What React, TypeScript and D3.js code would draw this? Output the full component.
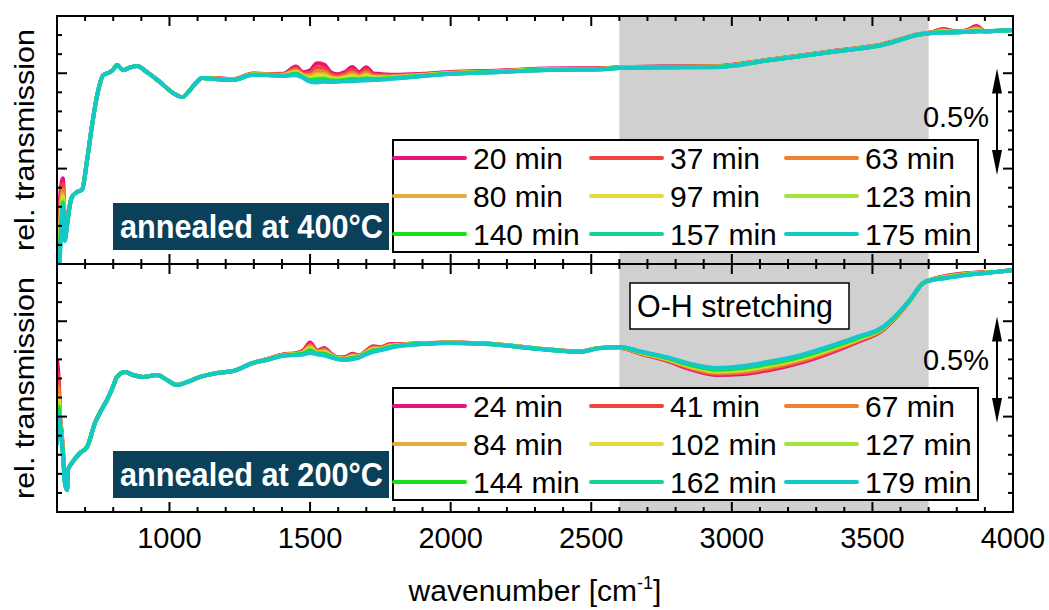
import React from 'react';
import * as d3 from 'd3';

const W = 1049;
const H = 610;
const FONT = '"Liberation Sans", Arial, Helvetica, sans-serif';

const xDomain = [600, 4000];
const xTickLabels = [1000, 1500, 2000, 2500, 3000, 3500, 4000];
const yDomain = [0, 1.3];
const ohBand = [2600, 3700];
const arrowSpan = [0.466, 1.025];

const times400 = ['20 min', '37 min', '63 min', '80 min', '97 min', '123 min', '140 min', '157 min', '175 min'];
const times200 = ['24 min', '41 min', '67 min', '84 min', '102 min', '127 min', '144 min', '162 min', '179 min'];
const seriesColors = ['#e8127f', '#f0433c', '#ef8030', '#e6ab38', '#e4db3a', '#a8e33c', '#16e016', '#14d38c', '#14c8c8'];

// 400 °C panel: wavenumber knots, latest spectrum, deviation of the earliest spectrum
const wn400 = [
  600, 611, 621, 628, 636, 645, 653, 671, 689, 707,
  720, 735, 750, 764, 788, 800, 813, 835, 860, 884,
  920, 966, 1013, 1045, 1073, 1095, 1116, 1155, 1226, 1297,
  1350, 1404, 1450, 1475, 1500, 1525, 1550, 1575, 1600, 1625,
  1650, 1675, 1700, 1725, 1750, 1775, 1800, 1900, 1998, 2176,
  2353, 2531, 2602, 2750, 2947, 3125, 3250, 3360, 3450, 3537,
  3600, 3658, 3715, 3750, 3800, 3836, 3870, 3900, 3950, 4000,
];
const late400 = [
  -0.25, 0.05, 0.3, 0.12, 0.2, 0.3, 0.35, 0.377, 0.39, 0.545,
  0.68, 0.823, 0.93, 0.99, 1.006, 1.02, 1.043, 1.017, 1.03, 1.038,
  1.006, 0.954, 0.896, 0.875, 0.912, 0.95, 0.975, 0.97, 0.964, 0.991,
  0.99, 0.985, 0.99, 0.975, 0.955, 0.952, 0.955, 0.954, 0.955, 0.957,
  0.958, 0.96, 0.962, 0.964, 0.966, 0.968, 0.972, 0.985, 0.996, 1.006,
  1.017, 1.02, 1.027, 1.03, 1.032, 1.066, 1.09, 1.112, 1.128, 1.148,
  1.175, 1.2, 1.211, 1.212, 1.214, 1.216, 1.218, 1.22, 1.223, 1.226,
];
const earlyDev400 = [
  0, 0.3, 0.15, 0.1, 0.03, 0.01, 0, 0, 0, 0,
  0, 0, 0, 0, 0, 0, 0, 0, 0, 0,
  0, 0, 0, 0, 0, 0, 0, 0.005, 0.005, 0.008,
  0.005, 0.012, 0.045, 0.03, 0.06, 0.1, 0.09, 0.05, 0.04, 0.05,
  0.075, 0.045, 0.07, 0.035, 0.03, 0.025, 0.02, 0.012, 0.01, 0.008,
  0.008, 0.006, 0.005, 0.005, 0.005, 0.004, 0.004, 0.004, 0.004, 0.004,
  0.003, 0.003, 0.005, 0.02, 0.005, 0.01, 0.03, 0, 0, 0,
];
const devScale400 = [1, 0.8, 0.6, 0.45, 0.35, 0.25, 0.15, 0.08, 0];

// 200 °C panel
const wn200 = [
  600, 606, 611, 616, 621, 628, 636, 639, 653, 682,
  707, 735, 760, 778, 800, 813, 842, 870, 906, 956,
  991, 1027, 1062, 1109, 1169, 1226, 1297, 1347, 1404, 1450,
  1475, 1500, 1525, 1550, 1575, 1600, 1625, 1650, 1675, 1700,
  1725, 1750, 1784, 1820, 1900, 1998, 2100, 2176, 2260, 2353,
  2460, 2531, 2602, 2680, 2769, 2860, 2947, 3040, 3125, 3250,
  3360, 3450, 3537, 3590, 3633, 3680, 3715, 3760, 3836, 3900,
  3950, 4000,
];
const late200 = [
  0.35, 0.5, 0.45, 0.38, 0.3, 0.15, 0.115, 0.22, 0.257, 0.309,
  0.341, 0.466, 0.54, 0.587, 0.66, 0.708, 0.734, 0.718, 0.708, 0.718,
  0.692, 0.666, 0.681, 0.708, 0.729, 0.739, 0.781, 0.797, 0.818, 0.823,
  0.825, 0.833, 0.826, 0.82, 0.81, 0.8, 0.797, 0.8, 0.81, 0.826,
  0.839, 0.848, 0.86, 0.87, 0.88, 0.886, 0.882, 0.875, 0.862, 0.849,
  0.839, 0.86, 0.865, 0.84, 0.812, 0.775, 0.755, 0.765, 0.786, 0.825,
  0.875, 0.92, 0.97, 1.04, 1.111, 1.2, 1.216, 1.225, 1.242, 1.252,
  1.26, 1.268,
];
const earlyDev200 = [
  0.45, 0.2, 0.05, 0.05, 0.03, 0.02, 0, 0, 0, 0,
  0, 0, 0, 0, 0, 0, 0, 0, 0, 0,
  0, 0, 0, 0, 0, 0, 0, 0.005, 0.008, 0.01,
  0.02, 0.055, 0.02, 0.04, 0.02, 0.01, 0.015, 0.03, 0.01, 0.02,
  0.03, 0.015, 0.02, 0.01, 0.005, 0.003, 0.003, 0.003, 0.003, 0.003,
  0.002, 0, -0.005, -0.012, -0.02, -0.03, -0.037, -0.042, -0.044, -0.04,
  -0.035, -0.027, -0.017, -0.01, -0.004, 0, 0.005, 0.012, 0.01, 0.005,
  0, 0,
];
const devScale200 = [1, 0.85, 0.7, 0.55, 0.45, 0.35, 0.25, 0.12, 0];

const PLOT_L = 57;
const PLOT_R = 1013;

const panels = [
  { id: 'p400', top: 16, bottom: 264, wn: wn400, late: late400, dev: earlyDev400, scale: devScale400, labels: times400, title: 'annealed at 400°C', legendTop: 140, boxTop: 203, pctBase: 127, oh: false },
  { id: 'p200', top: 264, bottom: 512, wn: wn200, late: late200, dev: earlyDev200, scale: devScale200, labels: times200, title: 'annealed at 200°C', legendTop: 388, boxTop: 451, pctBase: 370, oh: true },
];

export default function App() {
  const x = d3.scaleLinear().domain(xDomain).range([PLOT_L, PLOT_R]);
  const minorX = d3.range(700, 4000, 100);
  const yTicks = d3.range(1, 13).map((i) => +(i * 0.1).toFixed(1));

  return (
    <svg width={W} height={H} style={{ position: 'absolute', left: 0, top: 0, background: '#fff' }} fontFamily={FONT}>
      <defs>
        {panels.map((p) => (
          <clipPath id={'clip-' + p.id} key={p.id}>
            <rect x={PLOT_L} y={p.top} width={PLOT_R - PLOT_L} height={p.bottom - p.top} />
          </clipPath>
        ))}
      </defs>
      {panels.map((p) => {
        const y = d3.scaleLinear().domain(yDomain).range([p.bottom, p.top]);
        const line = d3
          .line<number>()
          .x((_, i) => x(p.wn[i]))
          .y((v) => y(v))
          .curve(d3.curveMonotoneX);
        const series = p.scale.map((s) => p.late.map((v, i) => v + s * p.dev[i]));
        const arrowX = 997;
        const aTop = y(arrowSpan[1]);
        const aBot = y(arrowSpan[0]);
        return (
          <g key={p.id}>
            <rect x={x(ohBand[0])} y={p.top} width={x(ohBand[1]) - x(ohBand[0])} height={p.bottom - p.top} fill="#d0d0d0" />
            <g clipPath={`url(#clip-${p.id})`}>
              {series.map((vals, k) => (
                <path key={k} d={line(vals) || ''} fill="none" stroke={seriesColors[k]} strokeWidth={4} strokeLinejoin="round" />
              ))}
            </g>
            {/* frame */}
            <rect x={PLOT_L} y={p.top} width={PLOT_R - PLOT_L} height={p.bottom - p.top} fill="none" stroke="#000" strokeWidth={2} />
            {/* x ticks top and bottom */}
            {minorX.map((t) => {
              const major = t % 500 === 0;
              const len = major ? 10 : 5;
              return (
                <g key={'xt' + t}>
                  <line x1={x(t)} x2={x(t)} y1={p.top} y2={p.top + len} stroke="#000" strokeWidth={2} />
                  <line x1={x(t)} x2={x(t)} y1={p.bottom} y2={p.bottom - len} stroke="#000" strokeWidth={2} />
                </g>
              );
            })}
            {/* y ticks left and right */}
            {yTicks.map((t, i) => {
              const major = (i + 1) % 5 === 0;
              const len = major ? 10 : 5;
              return (
                <g key={'yt' + i}>
                  <line x1={PLOT_L} x2={PLOT_L + len} y1={y(t)} y2={y(t)} stroke="#000" strokeWidth={2} />
                  <line x1={PLOT_R} x2={PLOT_R - len} y1={y(t)} y2={y(t)} stroke="#000" strokeWidth={2} />
                </g>
              );
            })}
            {/* y label */}
            <text
              transform={`translate(34,${(p.top + p.bottom) / 2}) rotate(-90)`}
              textAnchor="middle"
              fontSize={28}
              textLength={222}
              lengthAdjust="spacingAndGlyphs"
              fill="#000"
            >
              rel. transmission
            </text>
            {/* legend */}
            <rect x={393} y={p.legendTop} width={585} height={112} fill="#fff" stroke="#000" strokeWidth={2} />
            {p.labels.map((lab, k) => {
              const col = k % 3;
              const row = Math.floor(k / 3);
              const lx = [393, 590, 785][col];
              const ly = p.legendTop + 18 + row * 38;
              return (
                <g key={lab}>
                  <line x1={lx + 1} x2={lx + 72} y1={ly} y2={ly} stroke={seriesColors[k]} strokeWidth={4} strokeLinecap="round" />
                  <text x={lx + 80} y={ly + 10.5} fontSize={30} fill="#000">
                    {lab}
                  </text>
                </g>
              );
            })}
            {/* annealing label */}
            <rect x={113} y={p.boxTop} width={276} height={47} fill="#0a4059" />
            <text x={120} y={p.boxTop + 35} fontSize={33} fontWeight="bold" fill="#fff" textLength={263} lengthAdjust="spacingAndGlyphs">
              {p.title}
            </text>
            {/* 0.5% arrow */}
            <line x1={arrowX} x2={arrowX} y1={aTop + 20} y2={aBot - 20} stroke="#000" strokeWidth={2} />
            <polygon points={`${arrowX},${aTop} ${arrowX - 5},${aTop + 25} ${arrowX + 5},${aTop + 25}`} fill="#000" />
            <polygon points={`${arrowX},${aBot} ${arrowX - 5},${aBot - 25} ${arrowX + 5},${aBot - 25}`} fill="#000" />
            <text x={989} y={p.pctBase} textAnchor="end" fontSize={29} fill="#000">
              0.5%
            </text>
            {p.oh && (
              <g>
                <rect x={630} y={283} width={219} height={46} fill="#fff" stroke="#000" strokeWidth={1.5} />
                <text x={637} y={317} fontSize={31} fill="#000" textLength={196} lengthAdjust="spacingAndGlyphs">
                  O-H stretching
                </text>
              </g>
            )}
          </g>
        );
      })}
      {/* x tick labels */}
      {xTickLabels.map((t) => (
        <text key={'xl' + t} x={x(t)} y={548} textAnchor="middle" fontSize={29} fill="#000">
          {t}
        </text>
      ))}
      <text x={(PLOT_L + PLOT_R) / 2} y={601} textAnchor="middle" fontSize={30} fill="#000">
        wavenumber [cm
        <tspan fontSize={18} dy={-12}>-1</tspan>
        <tspan dy={12}>]</tspan>
      </text>
    </svg>
  );
}
